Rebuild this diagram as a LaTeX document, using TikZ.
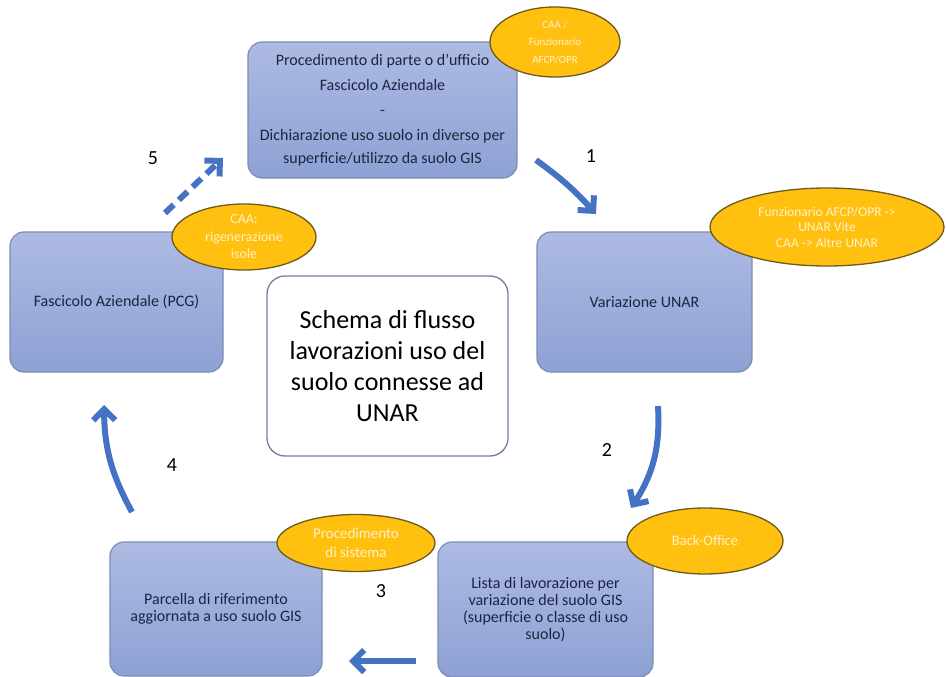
\documentclass[tikz,border=0pt]{standalone}
\usepackage{fontspec}
\setmainfont{Carlito}
\usetikzlibrary{arrows.meta,shapes.geometric}
\definecolor{boxtop}{HTML}{ADBBE3}
\definecolor{boxbot}{HTML}{8EA1D4}
\definecolor{boxline}{HTML}{7D8CB3}
\definecolor{boxtext}{HTML}{1C2440}
\definecolor{ellfill}{HTML}{FFC010}
\definecolor{elline}{HTML}{6E5A1E}
\definecolor{elltext}{HTML}{FFF2C8}
\definecolor{arrowblue}{HTML}{4472C4}
\tikzset{
  bluebox/.style={draw=boxline, line width=1.2pt, rounded corners=14pt,
    top color=boxtop, bottom color=boxbot, text=boxtext, align=center,
    font=\fontsize{16}{17}\selectfont, inner sep=4pt},
  whitebox/.style={draw=boxline!90!black, line width=1.3pt, rounded corners=18pt,
    fill=white, text=black, align=center,
    font=\fontsize{26}{31}\selectfont},
  roleell/.style={ellipse, draw=elline, line width=1.3pt, fill=ellfill,
    text=elltext, align=center, inner sep=0pt},
  flowarrow/.style={draw=arrowblue, line width=6pt,
    -{Straight Barb[length=11pt,width=22pt]}},
  numlabel/.style={text=black, font=\fontsize{20}{22}\selectfont}
}
\begin{document}
\begin{tikzpicture}[x=1pt,y=-1pt]
\useasboundingbox (0,0) rectangle (946,677);
% boxes
\node[bluebox, minimum width=269pt, minimum height=136pt] (top) at (382.5,110)
  {Procedimento di parte o d’ufficio\\[8pt]Fascicolo Aziendale\\[8pt]-\\[8pt]Dichiarazione uso suolo in diverso per\\[6pt]superficie/utilizzo da suolo GIS};
\node[bluebox, minimum width=215pt, minimum height=140pt] (right) at (644.5,302) {Variazione UNAR};
\node[bluebox, minimum width=213pt, minimum height=140pt] (left) at (116.5,302) {Fascicolo Aziendale (PCG)};
\node[bluebox, minimum width=212pt, minimum height=134pt] (bl) at (216,609)
  {Parcella di riferimento\\aggiornata a uso suolo GIS};
\node[bluebox, minimum width=215pt, minimum height=135pt] (br) at (545.5,609.5)
  {Lista di lavorazione per\\variazione del suolo GIS\\(superficie o classe di uso\\suolo)};
\node[whitebox, minimum width=241pt, minimum height=180pt] (center) at (387.5,366)
  {Schema di flusso\\lavorazioni uso del\\suolo connesse ad\\UNAR};
% role ellipses
\node[roleell, minimum width=130pt, minimum height=70pt, font=\fontsize{11}{17.5}\selectfont] (etop) at (555,42)
  {CAA /\\Funzionario\\AFCP/OPR};
\node[roleell, minimum width=234pt, minimum height=78pt, font=\fontsize{13.5}{15.5}\selectfont] (eright) at (827,227)
  {Funzionario AFCP/OPR ->\\UNAR Vite\\CAA -> Altre UNAR};
\node[roleell, minimum width=144pt, minimum height=66pt, font=\fontsize{14}{17.5}\selectfont] (eleft) at (244,237)
  {CAA:\\rigenerazione\\isole};
\node[roleell, minimum width=158pt, minimum height=57pt, font=\fontsize{15}{19}\selectfont] (ebl) at (356,543)
  {Procedimento\\di sistema};
\node[roleell, minimum width=156pt, minimum height=66pt, font=\fontsize{14.5}{17}\selectfont] (ebr) at (705,541)
  {Back-Office};
% arrow end points
\coordinate (a1s) at (536,160);
\coordinate (a1e) at (596,214);
\coordinate (a2s) at (658,406);
\coordinate (a2e) at (631,508);
\coordinate (a3s) at (416,661);
\coordinate (a3e) at (349,661);
\coordinate (a4s) at (132,512);
\coordinate (a4e) at (104,405);
\coordinate (a5s) at (165,213);
\coordinate (a5e) at (223,158);
\draw[flowarrow] (a1s) to[bend left=6] (a1e);
\draw[flowarrow] (a2s) to[bend left=18] (a2e);
\draw[flowarrow] (a3s) -- (a3e);
\draw[flowarrow] (a4s) to[bend left=14] (a4e);
\draw[flowarrow, dash pattern=on 12pt off 7pt] (a5s) -- (a5e);
% numbers
\node[numlabel] (n1) at (591,156) {1};
\node[numlabel] (n2) at (607,450) {2};
\node[numlabel] (n3) at (381,591) {3};
\node[numlabel] (n4) at (172,465) {4};
\node[numlabel] (n5) at (153,158) {5};
\end{tikzpicture}
\end{document}
